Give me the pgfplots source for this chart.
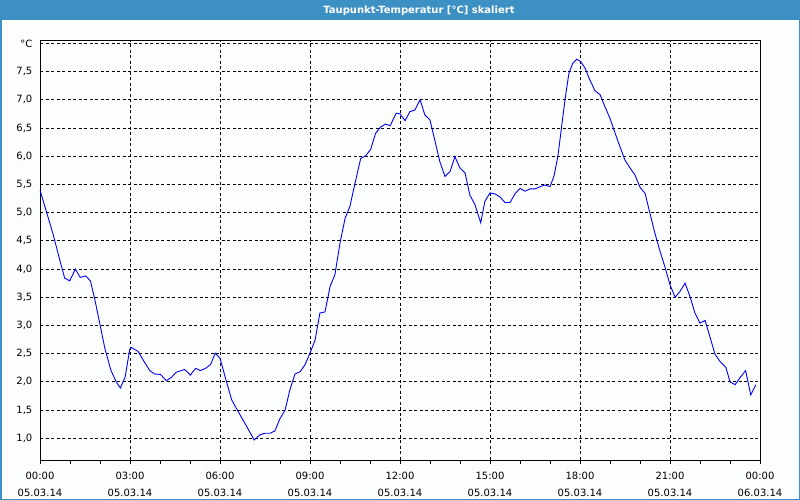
\documentclass[border=0pt]{standalone}
\usepackage{fontspec}
\setmainfont{DejaVu Sans}
\usepackage{pgfplots}
\pgfplotsset{compat=1.18}
\definecolor{barblue}{RGB}{61,144,196}
\definecolor{bgc}{RGB}{252,254,253}
\begin{document}
\begin{tikzpicture}
\useasboundingbox (0,0) rectangle (800bp,500bp);
\fill[bgc] (0,0) rectangle (800bp,500bp);
\fill[barblue] (0,479.5bp) rectangle (800bp,500bp);
\draw[barblue, line width=1.5bp] (0.75bp,0.75bp) rectangle (799.25bp,499.25bp);
\node[text=white, font={\fontsize{10bp}{11bp}\selectfont\bfseries}] at (419bp,489.5bp) {Taupunkt-Temperatur [°C] skaliert};
\begin{axis}[
  at={(40bp,40bp)}, anchor=south west,
  scale only axis, width=720bp, height=420bp,
  xmin=0, xmax=24, ymin=0.615, ymax=8.06,
  axis line style={black, line width=0.8bp},
  xtick={0,3,...,24},
  minor xtick={1,2,4,5,7,8,10,11,13,14,16,17,19,20,22,23},
  xticklabels={{00:00\\05.03.14},{03:00\\05.03.14},{06:00\\05.03.14},{09:00\\05.03.14},{12:00\\05.03.14},{15:00\\05.03.14},{18:00\\05.03.14},{21:00\\05.03.14},{00:00\\06.03.14}},
  ytick={1,1.5,...,8},
  yticklabels={{1,0},{1,5},{2,0},{2,5},{3,0},{3,5},{4,0},{4,5},{5,0},{5,5},{6,0},{6,5},{7,0},{7,5},{°C}},
  tick align=outside,
  xtick pos=bottom, ytick pos=left,
  major tick length=3.5bp, minor tick length=3.5bp,
  x tick style={black, line width=0.8bp},
  minor x tick style={black, line width=0.8bp},
  y tick style={draw=none},
  xmajorgrids, ymajorgrids,
  major grid style={black, line width=0.8bp, dash pattern=on 3bp off 2.5bp},
  xticklabel style={align=center, inner sep=0pt, font={\fontsize{10bp}{16.5bp}\selectfont}, yshift=-8.5bp},
  yticklabel style={inner sep=0pt, xshift=-4bp, font={\fontsize{10bp}{12bp}\selectfont}},
  /pgf/number format/assume math mode=true,
]
\addplot[blue, line width=0.9bp] coordinates {
(0.00,5.40)(0.43,4.63)(0.66,4.16)(0.82,3.84)(0.99,3.79)(1.18,4.00)(1.34,3.85)(1.52,3.88)(1.68,3.79)(1.82,3.48)
(1.99,3.04)(2.16,2.60)(2.36,2.21)(2.54,2.00)(2.68,1.89)(2.84,2.09)(2.99,2.57)(3.04,2.61)(3.27,2.54)(3.47,2.36)
(3.66,2.20)(3.82,2.14)(4.02,2.13)(4.21,2.02)(4.38,2.08)(4.54,2.17)(4.82,2.22)(5.01,2.12)(5.19,2.24)(5.34,2.20)
(5.52,2.24)(5.69,2.31)(5.84,2.51)(6.00,2.42)(6.17,2.09)(6.39,1.68)(6.61,1.47)(6.89,1.21)(7.14,0.97)(7.33,1.06)
(7.50,1.09)(7.67,1.09)(7.83,1.13)(8.00,1.35)(8.17,1.50)(8.33,1.86)(8.50,2.14)(8.67,2.18)(8.83,2.30)(9.00,2.51)
(9.17,2.74)(9.33,3.22)(9.50,3.24)(9.67,3.69)(9.83,3.90)(10.00,4.46)(10.17,4.90)(10.33,5.11)(10.50,5.52)(10.69,5.96)
(10.86,6.01)(11.02,6.12)(11.19,6.41)(11.36,6.52)(11.52,6.57)(11.67,6.54)(11.87,6.76)(12.00,6.75)(12.17,6.63)(12.33,6.79)
(12.50,6.82)(12.67,7.00)(12.83,6.73)(13.00,6.64)(13.17,6.26)(13.33,5.90)(13.50,5.64)(13.67,5.73)(13.83,5.99)(14.00,5.79)
(14.17,5.70)(14.33,5.31)(14.50,5.14)(14.69,4.82)(14.83,5.20)(15.00,5.35)(15.17,5.33)(15.33,5.28)(15.50,5.18)(15.67,5.18)
(15.83,5.33)(16.00,5.43)(16.17,5.38)(16.33,5.42)(16.50,5.42)(16.67,5.46)(16.83,5.49)(17.00,5.46)(17.13,5.64)(17.26,5.99)
(17.36,6.41)(17.50,7.00)(17.63,7.47)(17.76,7.65)(17.89,7.72)(18.02,7.68)(18.17,7.56)(18.33,7.35)(18.50,7.16)(18.67,7.09)
(18.83,6.88)(19.00,6.67)(19.17,6.41)(19.33,6.17)(19.50,5.93)(19.67,5.79)(19.83,5.67)(20.00,5.45)(20.17,5.34)(20.33,4.99)
(20.50,4.63)(20.67,4.31)(20.83,4.04)(21.00,3.72)(21.17,3.50)(21.33,3.60)(21.50,3.75)(21.67,3.51)(21.83,3.22)(22.00,3.04)
(22.17,3.09)(22.33,2.80)(22.50,2.49)(22.67,2.36)(22.86,2.26)(23.00,2.00)(23.17,1.95)(23.33,2.07)(23.52,2.20)(23.69,1.77)
(23.86,1.95)
};
\end{axis}
\end{tikzpicture}
\end{document}
